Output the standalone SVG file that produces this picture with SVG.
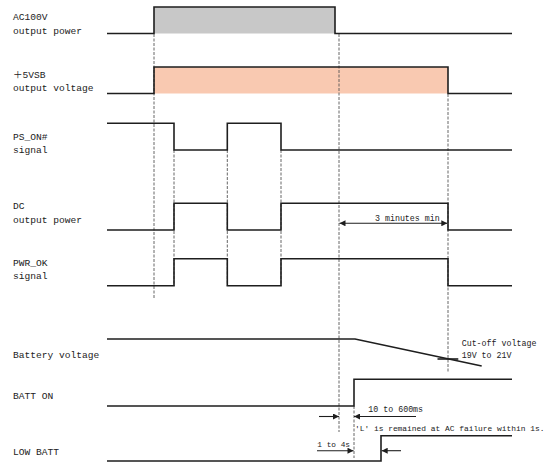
<svg xmlns="http://www.w3.org/2000/svg" width="547" height="464" viewBox="0 0 547 464">
<defs>
<style>
.lbl{font-family:"Liberation Mono","DejaVu Sans Mono","Noto Sans CJK JP",monospace;font-size:9.6px;fill:#222}
.sm{font-family:"Liberation Mono","DejaVu Sans Mono",monospace;font-size:8.3px;fill:#222}
.sig{fill:none;stroke:#1e1e1e;stroke-width:1.6;stroke-linejoin:miter}
.dash{fill:none;stroke:#555;stroke-width:0.9;stroke-dasharray:3,1.5}
.arr{fill:none;stroke:#1e1e1e;stroke-width:1.1}
</style>
<marker id="ah" viewBox="0 0 10 10" refX="10" refY="5" markerWidth="9" markerHeight="6" markerUnits="userSpaceOnUse" orient="auto-start-reverse">
<path d="M0,0 L10,5 L0,10 z" fill="#1e1e1e"/>
</marker>
</defs>
<rect width="547" height="464" fill="#fff"/>

<g id="fills">
<rect x="154" y="7" width="181" height="26.5" fill="#c8c8c8"/>
<rect x="154" y="67" width="294" height="26.5" fill="#f9c9b1"/>
</g>

<g id="connectors">
<line class="dash" x1="154" y1="34" x2="154" y2="299"/>
<line class="dash" x1="174" y1="150" x2="174" y2="286"/>
<line class="dash" x1="227.3" y1="150" x2="227.3" y2="286"/>
<line class="dash" x1="281" y1="150" x2="281" y2="286"/>
<line class="dash" x1="339" y1="34" x2="339" y2="432"/>
<line class="dash" x1="448" y1="94" x2="448" y2="372"/>
<line class="dash" x1="354" y1="406" x2="354" y2="458"/>
<line class="arr" x1="339.5" y1="223.3" x2="447.3" y2="223.3" marker-start="url(#ah)" marker-end="url(#ah)"/>
<line class="arr" x1="319" y1="416.5" x2="339" y2="416.5" marker-end="url(#ah)"/>
<line class="arr" x1="416" y1="416.5" x2="354" y2="416.5" marker-end="url(#ah)"/>
<line class="arr" x1="317" y1="450.7" x2="353.5" y2="450.7" marker-end="url(#ah)"/>
<line class="arr" x1="401" y1="450.7" x2="381.7" y2="450.7" marker-end="url(#ah)"/>
<line x1="437.5" y1="359" x2="458.3" y2="359" stroke="#1e1e1e" stroke-width="1.6"/>
</g>

<g id="ac100v">
<text class="lbl" x="13" y="19.5">AC100V</text>
<text class="lbl" x="13" y="34.3">output power</text>
<path class="sig" d="M107,33.5 H154 V7 H335 V33.5 H512"/>
</g>

<g id="vsb5">
<text class="lbl" x="13" y="77.5">＋5VSB</text>
<text class="lbl" x="13" y="90.7">output voltage</text>
<path class="sig" d="M107,93.5 H154 V67 H448 V93.5 H512"/>
</g>

<g id="ps_on">
<text class="lbl" x="13" y="139.5">PS_ON#</text>
<text class="lbl" x="13" y="152.7">signal</text>
<path class="sig" d="M107,123.3 H174 V150 H227.3 V123.3 H281 V150 H512"/>
</g>

<g id="dc">
<text class="lbl" x="13" y="209.3">DC</text>
<text class="lbl" x="13" y="223.3">output power</text>
<path class="sig" d="M107,230 H174 V203.3 H227.3 V230 H281 V203.3 H448 V230 H512"/>
<text class="sm" x="375" y="220.7">3 minutes min</text>
</g>

<g id="pwr_ok">
<text class="lbl" x="13" y="265.7">PWR_OK</text>
<text class="lbl" x="13" y="279">signal</text>
<path class="sig" d="M107,285.7 H174 V258.7 H227.3 V285.7 H281 V258.7 H448 V285.7 H512"/>
</g>

<g id="battery">
<text class="lbl" x="13" y="358">Battery voltage</text>
<path class="sig" d="M107,339 H355 L481.7,366"/>
<text class="sm" x="461.7" y="345.7">Cut-off voltage</text>
<text class="sm" x="461.7" y="357.7">19V to 21V</text>
</g>

<g id="batt_on">
<text class="lbl" x="13" y="398.7">BATT ON</text>
<path class="sig" d="M107,406 H354 V379.3 H512"/>
<text class="sm" x="368.3" y="412">10 to 600ms</text>
<text class="sm" x="355" y="431" style="font-size:7.9px">'L' is remained at AC failure within 1s.</text>
</g>

<g id="low_batt">
<text class="lbl" x="13" y="455">LOW BATT</text>
<path class="sig" d="M107,461 H381 V435.7 H512"/>
<text class="sm" x="317.3" y="447.3" style="font-size:7.8px">1 to 4s</text>
</g>
</svg>
